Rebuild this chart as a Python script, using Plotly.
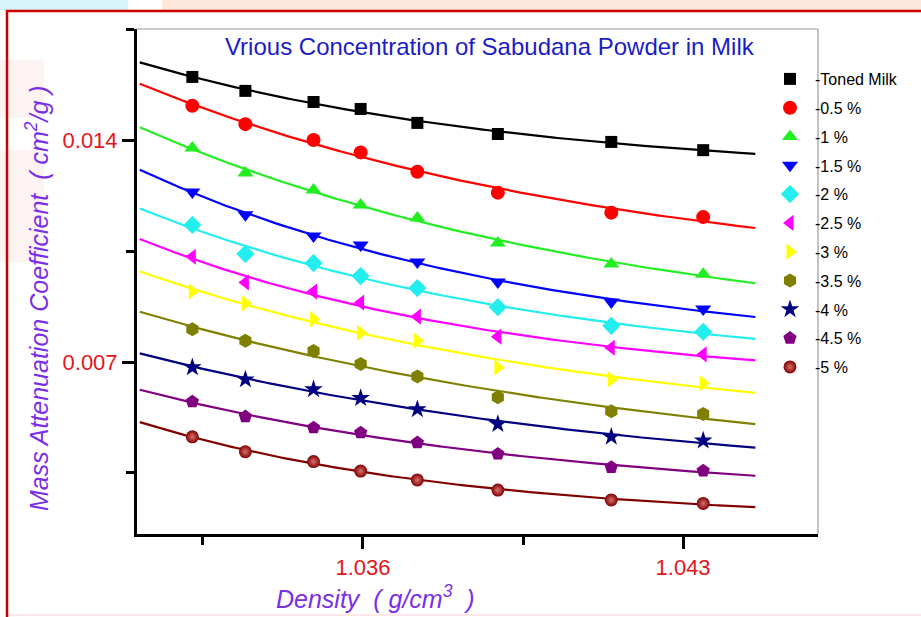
import numpy as np
import plotly.graph_objects as go

# Density of the milk samples (g/cm^3)
density = [1.03227, 1.03343, 1.03492, 1.03595, 1.03719, 1.03895, 1.04143, 1.04344]

# Mass attenuation coefficient (cm^2/g) for each sample
toned_milk = [0.01599, 0.01555, 0.01520, 0.01498, 0.01454, 0.01419, 0.01394, 0.01368]
conc_0_5 = [0.01508, 0.01450, 0.01400, 0.01361, 0.01300, 0.01234, 0.01171, 0.01157]
conc_1 = [0.01375, 0.01296, 0.01242, 0.01195, 0.01154, 0.01075, 0.01009, 0.00977]
conc_1_5 = [0.01236, 0.01164, 0.01097, 0.01069, 0.01015, 0.00952, 0.00889, 0.00867]
conc_2 = [0.01132, 0.01041, 0.01012, 0.00971, 0.00933, 0.00873, 0.00814, 0.00795]
conc_2_5 = [0.01032, 0.00951, 0.00922, 0.00887, 0.00843, 0.00780, 0.00745, 0.00724]
conc_3 = [0.00922, 0.00885, 0.00835, 0.00792, 0.00767, 0.00683, 0.00645, 0.00633]
conc_3_5 = [0.00803, 0.00767, 0.00735, 0.00694, 0.00654, 0.00589, 0.00545, 0.00536]
conc_4 = [0.00683, 0.00645, 0.00614, 0.00586, 0.00551, 0.00504, 0.00464, 0.00452]
conc_4_5 = [0.00575, 0.00528, 0.00493, 0.00477, 0.00446, 0.00410, 0.00368, 0.00357]
conc_5 = [0.00464, 0.00417, 0.00386, 0.00356, 0.00328, 0.00296, 0.00265, 0.00254]

series_labels = ["-Toned Milk", "-0.5 %", "-1 %", "-1.5 %", "-2 %", "-2.5 %",
                 "-3 %", "-3.5 %", "-4 %", "-4.5 %", "-5 %"]
series_values = [toned_milk, conc_0_5, conc_1, conc_1_5, conc_2, conc_2_5,
                 conc_3, conc_3_5, conc_4, conc_4_5, conc_5]
series_colors = ["#000000", "#ff0000", "#22ee22", "#0000ff", "#22eeee", "#ff00ff",
                 "#ffff00", "#808000", "#000080", "#800080", "#800000"]
series_symbols = ["square", "circle", "triangle-up", "triangle-down", "diamond",
                  "triangle-left", "triangle-right", "hexagon", "star", "pentagon",
                  "circle"]
series_sizes = [12, 14, 14, 14, 14, 14, 14, 14, 14, 14, 13]

# Span of the fitted decay curves
fit_start, fit_end = 1.03112, 1.04458

W, H = 921, 617
ML, MR, MT, MB = 137, 103, 29, 83
PW, PH = W - ML - MR, H - MT - MB


def px_x(px):
    return (px - ML) / PW


def px_y(py):
    return 1 - (py - MT) / PH


def exp_decay_fit(x, y):
    """First-order exponential decay y = y0 + A*exp(-(x - x0)/t)."""
    x = np.asarray(x, float)
    y = np.asarray(y, float)
    x0 = x[0]
    best = None
    for t in np.logspace(-3.7, -1, 400):
        basis = np.column_stack([np.ones_like(x), np.exp(-(x - x0) / t)])
        coef, *_ = np.linalg.lstsq(basis, y, rcond=None)
        err = np.sum((basis @ coef - y) ** 2)
        if best is None or err < best[0]:
            best = (err, t, coef)
    _, t, coef = best
    xs = np.linspace(fit_start, fit_end, 200)
    return xs, coef[0] + coef[1] * np.exp(-(xs - x0) / t)


fig = go.Figure()

for name, vals, col in zip(series_labels, series_values, series_colors):
    xs, ys = exp_decay_fit(density, vals)
    fig.add_trace(go.Scatter(x=xs, y=ys, mode="lines", line=dict(color=col, width=2.2),
                             showlegend=False, hoverinfo="skip"))

for i, (name, vals, col, sym, sz) in enumerate(
        zip(series_labels, series_values, series_colors, series_symbols, series_sizes)):
    marker = dict(color=col, symbol=sym, size=sz, line=dict(width=0))
    if i == len(series_labels) - 1:
        marker["gradient"] = dict(type="radial", color="#d87070")
    fig.add_trace(go.Scatter(x=density, y=vals, mode="markers", name=name,
                             legendgroup=name, marker=marker))

FONT = "Liberation Sans, Arial, sans-serif"
tick_font = dict(family=FONT, size=22, color="#e3161c")
title_color = "#7b2ee8"

fig.update_xaxes(
    range=[1.03106, 1.04595], tick0=1.036, dtick=0.007, tickformat=".3f",
    showline=True, linecolor="black", linewidth=3, mirror=False,
    ticks="outside", ticklen=12, tickwidth=3, tickcolor="black",
    minor=dict(tick0=1.036, dtick=0.0035, ticks="outside", ticklen=8,
               tickwidth=3, tickcolor="black"),
    showgrid=False, zeroline=False, tickfont=tick_font,
)
fig.update_yaxes(
    range=[0.001576, 0.017501], tick0=0.007, dtick=0.007, tickformat=".3f",
    showline=True, linecolor="black", linewidth=3, mirror=False,
    ticks="outside", ticklen=12, tickwidth=3, tickcolor="black",
    minor=dict(tick0=0.007, dtick=0.0035, ticks="outside", ticklen=8,
               tickwidth=3, tickcolor="black"),
    showgrid=False, zeroline=False, tickfont=tick_font,
)

shapes = [
    # faint background bands along the top edge and left margin
    dict(type="rect", xref="paper", yref="paper", x0=px_x(0), x1=px_x(128),
         y0=px_y(10), y1=px_y(0), fillcolor="#d8f4fb", line=dict(width=0), layer="below"),
    dict(type="rect", xref="paper", yref="paper", x0=px_x(162), x1=px_x(921),
         y0=px_y(10), y1=px_y(0), fillcolor="#fde6da", line=dict(width=0), layer="below"),
    dict(type="rect", xref="paper", yref="paper", x0=px_x(0), x1=px_x(44),
         y0=px_y(118), y1=px_y(60), fillcolor="#fef3f3", line=dict(width=0), layer="below"),
    dict(type="rect", xref="paper", yref="paper", x0=px_x(0), x1=px_x(44),
         y0=px_y(262), y1=px_y(150), fillcolor="#fef3f3", line=dict(width=0), layer="below"),
    dict(type="line", xref="paper", yref="paper", x0=px_x(7), x1=px_x(921),
         y0=px_y(615), y1=px_y(615), line=dict(color="#fbe0e0", width=1.5)),
    # red frame around the figure
    dict(type="rect", xref="paper", yref="paper", x0=px_x(7), x1=px_x(930),
         y0=px_y(630), y1=px_y(11), line=dict(color="#cc0000", width=2.5),
         fillcolor="rgba(0,0,0,0)"),
    # thin top/right frame of the plot layer
    dict(type="line", xref="paper", yref="paper", x0=0, x1=1, y0=1, y1=1,
         line=dict(color="#9a9a9a", width=1.2)),
    dict(type="line", xref="paper", yref="paper", x0=1, x1=1, y0=0, y1=1,
         line=dict(color="#9a9a9a", width=1.2)),
]

annotations = [
    dict(text="Vrious Concentration of Sabudana Powder in Milk", xref="paper", yref="paper",
         x=px_x(490), y=px_y(46), xanchor="center", yanchor="middle", showarrow=False,
         font=dict(family=FONT, size=24, color="#1c1cc4")),
    dict(text="<i>Mass Attenuation Coefficient  ( cm<sup>2</sup>/g )</i>", xref="paper",
         yref="paper", x=px_x(37), y=px_y(298), xanchor="center", yanchor="middle",
         textangle=-90, showarrow=False,
         font=dict(family=FONT, size=25, color=title_color)),
    dict(text="<i>Density  ( g/cm<sup>3</sup>  )</i>", xref="paper", yref="paper",
         x=px_x(375), y=px_y(597), xanchor="center", yanchor="middle", showarrow=False,
         font=dict(family=FONT, size=25, color=title_color)),
]

fig.update_layout(
    width=W, height=H,
    margin=dict(l=ML, r=MR, t=MT, b=MB, autoexpand=False),
    paper_bgcolor="white", plot_bgcolor="white",
    shapes=shapes, annotations=annotations,
    legend=dict(x=px_x(765), y=px_y(62), xanchor="left", yanchor="top",
                bgcolor="rgba(0,0,0,0)", tracegroupgap=5, itemwidth=40,
                font=dict(family=FONT, size=16, color="black")),
    showlegend=True,
)

fig.write_html("out.html")
